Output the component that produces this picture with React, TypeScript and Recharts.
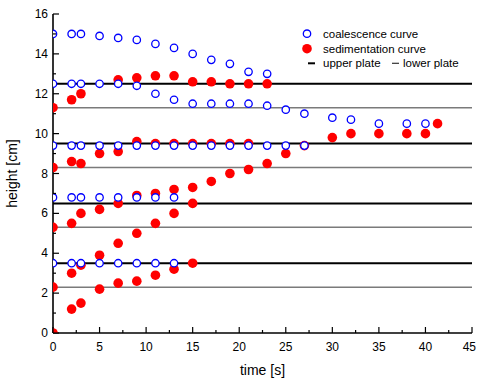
import { ScatterChart, Scatter, XAxis, YAxis, ReferenceLine, Legend } from "recharts";

const FONT = "'Liberation Sans', Arial, sans-serif";

const xTicks = [0, 2.5, 5, 7.5, 10, 12.5, 15, 17.5, 20, 22.5, 25, 27.5, 30, 32.5, 35, 37.5, 40, 42.5, 45];
const yTicks = [0, 1, 2, 3, 4, 5, 6, 7, 8, 9, 10, 11, 12, 13, 14, 15, 16];

const upperPlates = [12.5, 9.5, 6.5, 3.5];
const lowerPlates = [11.3, 8.3, 5.3, 2.3];

// coalescence curve (open circles)
const coal1Time = [0, 2, 3, 5, 7, 9, 11, 13, 15, 17, 19, 21, 23];
const coal1Height = [15.0, 15.0, 15.0, 14.9, 14.8, 14.7, 14.5, 14.3, 14.0, 13.7, 13.5, 13.1, 13.0];
const coal2Time = [0, 2, 3, 5, 7, 9, 11, 13, 15, 17, 19, 21, 23, 25, 27, 30, 32, 35, 38, 40];
const coal2Height = [12.5, 12.5, 12.5, 12.5, 12.5, 12.4, 12.0, 11.7, 11.5, 11.5, 11.5, 11.5, 11.4, 11.2, 11.0, 10.8, 10.7, 10.5, 10.5, 10.5];
const coal3Time = [0, 2, 3, 5, 7, 9, 11, 13, 15, 17, 19, 21, 23, 25, 27];
const coal3Height = [9.4, 9.4, 9.4, 9.4, 9.4, 9.4, 9.4, 9.4, 9.4, 9.4, 9.4, 9.4, 9.4, 9.4, 9.4];
const coal4Time = [0, 2, 3, 5, 7, 9, 11, 13];
const coal4Height = [6.8, 6.8, 6.8, 6.8, 6.8, 6.8, 6.8, 6.8];
const coal5Time = [0, 2, 3, 5, 7, 9, 11, 13];
const coal5Height = [3.5, 3.5, 3.5, 3.5, 3.5, 3.5, 3.5, 3.5];

// sedimentation curve (filled dots)
const sed1Time = [0, 2, 3, 7, 9, 11, 13, 15, 17, 19, 21, 23];
const sed1Height = [11.3, 11.7, 12.0, 12.7, 12.8, 12.9, 12.9, 12.6, 12.6, 12.5, 12.5, 12.5];
const sed2Time = [0, 2, 3, 5, 7, 9, 11, 13, 15, 17, 19, 21];
const sed2Height = [8.3, 8.6, 8.5, 9.0, 9.1, 9.6, 9.5, 9.5, 9.5, 9.5, 9.5, 9.5];
const sed3Time = [0, 2, 3, 5, 7, 9, 11, 13, 15, 17, 19, 21, 23, 25, 27, 30, 32, 35, 38, 40, 41.3];
const sed3Height = [5.3, 5.5, 6.0, 6.2, 6.5, 6.9, 7.0, 7.2, 7.3, 7.6, 8.0, 8.2, 8.5, 9.0, 9.4, 9.8, 10.0, 10.0, 10.0, 10.0, 10.5];
const sed4Time = [0, 2, 3, 5, 7, 9, 11, 13, 15];
const sed4Height = [2.3, 3.0, 3.4, 3.9, 4.5, 5.0, 5.5, 6.0, 6.5];
const sed5Time = [0, 2, 3, 5, 7, 9, 11, 13, 15];
const sed5Height = [0, 1.2, 1.5, 2.2, 2.5, 2.6, 2.9, 3.2, 3.5];

const zip = (t: number[], h: number[]) => t.map((v, i) => ({ t: v, h: h[i] }));

const coalescence = [
    ...zip(coal1Time, coal1Height),
    ...zip(coal2Time, coal2Height),
    ...zip(coal3Time, coal3Height),
    ...zip(coal4Time, coal4Height),
    ...zip(coal5Time, coal5Height),
];
const sedimentation = [
    ...zip(sed1Time, sed1Height),
    ...zip(sed2Time, sed2Height),
    ...zip(sed3Time, sed3Height),
    ...zip(sed4Time, sed4Height),
    ...zip(sed5Time, sed5Height),
];

// plot frame (chart margins + axis sizes)
const MARGIN = { top: 14, right: 5, bottom: 0, left: 0 };
const CHART_W = 477;
const CHART_H = 379;
const Y_AXIS_W = 53;
const X_AXIS_H = 46;

const BottomTick = ({ x, y, payload }: any) => {
    const major = payload.value % 5 === 0;
    // last label would run off the page edge, pull it in
    const last = payload.value === xTicks[xTicks.length - 1];
    return (
        <g>
            <line x1={x} y1={y} x2={x} y2={y - (major ? 6 : 3)} stroke="#000" strokeWidth={1.2} />
            {major && (
                <text
                    x={last ? CHART_W - 1 : x}
                    y={y + 18}
                    textAnchor={last ? "end" : "middle"}
                    fontSize={12}
                    fontFamily={FONT}
                    fill="#000">
                    {payload.value}
                </text>
            )}
        </g>
    );
};

const TopTick = ({ x, y, payload }: any) => {
    const major = payload.value % 5 === 0;
    return <line x1={x} y1={y} x2={x} y2={y + (major ? 6 : 3)} stroke="#000" strokeWidth={1.2} />;
};

const LeftTick = ({ x, y, payload }: any) => {
    const major = payload.value % 2 === 0;
    return (
        <g>
            <line x1={x} y1={y} x2={x + (major ? 6 : 3)} y2={y} stroke="#000" strokeWidth={1.2} />
            {major && (
                <text x={x - 5} y={y + 4} textAnchor="end" fontSize={12} fontFamily={FONT} fill="#000">
                    {payload.value}
                </text>
            )}
        </g>
    );
};

const RightTick = ({ x, y, payload }: any) => {
    const major = payload.value % 2 === 0;
    return <line x1={x} y1={y} x2={x - (major ? 6 : 3)} y2={y} stroke="#000" strokeWidth={1.2} />;
};

const OpenCircle = ({ cx, cy }: any) => (
    <circle cx={cx} cy={cy} r={3.7} fill="#fff" stroke="#0000ff" strokeWidth={1.3} clipPath="url(#plot-frame)" />
);
const FilledDot = ({ cx, cy }: any) => (
    <circle cx={cx} cy={cy} r={4.8} fill="#ff0000" clipPath="url(#plot-frame)" />
);

const renderLegend = () => (
    <svg width={187} height={55} style={{ display: "block" }}>
        <g fontFamily={FONT} fontSize={11.5} fill="#000">
            <circle cx={17} cy={13.7} r={3.7} fill="#fff" stroke="#0000ff" strokeWidth={1.3} />
            <text x={33} y={17.8}>coalescence curve</text>
            <circle cx={17} cy={28.7} r={4.8} fill="#ff0000" />
            <text x={33} y={32.8}>sedimentation curve</text>
            <line x1={18} y1={43.3} x2={25} y2={43.3} stroke="#000" strokeWidth={2} />
            <text x={33} y={47.4}>upper plate</text>
            <line x1={102} y1={43.3} x2={109} y2={43.3} stroke="#333" strokeWidth={1.2} />
            <text x={113} y={47.4}>lower plate</text>
        </g>
    </svg>
);

export default function App() {
    return (
        <div style={{ position: "absolute", left: 0, top: 0, background: "#fff" }}>
            <ScatterChart width={CHART_W} height={CHART_H} margin={MARGIN}>
                <defs>
                    <clipPath id="plot-frame">
                        <rect
                            x={MARGIN.left + Y_AXIS_W}
                            y={MARGIN.top}
                            width={CHART_W - MARGIN.left - MARGIN.right - Y_AXIS_W}
                            height={CHART_H - MARGIN.top - MARGIN.bottom - X_AXIS_H}
                        />
                    </clipPath>
                </defs>
                <XAxis
                    xAxisId="bottom"
                    dataKey="t"
                    type="number"
                    domain={[0, 45]}
                    ticks={xTicks}
                    interval={0}
                    allowDataOverflow
                    height={X_AXIS_H}
                    tickSize={0}
                    tickMargin={0}
                    tickLine={false}
                    tick={<BottomTick />}
                    axisLine={{ stroke: "#000", strokeWidth: 1.6 }}
                    label={{ value: "time [s]", position: "insideBottom", offset: 4, fontSize: 14, fontFamily: FONT, fill: "#000" }}
                />
                <XAxis
                    xAxisId="top"
                    orientation="top"
                    type="number"
                    domain={[0, 45]}
                    ticks={xTicks}
                    interval={0}
                    allowDataOverflow
                    height={0}
                    tickSize={0}
                    tickMargin={0}
                    tickLine={false}
                    tick={<TopTick />}
                    axisLine={{ stroke: "#000", strokeWidth: 1.6 }}
                />
                <YAxis
                    yAxisId="left"
                    dataKey="h"
                    type="number"
                    domain={[0, 16]}
                    ticks={yTicks}
                    interval={0}
                    allowDataOverflow
                    width={Y_AXIS_W}
                    tickSize={0}
                    tickMargin={0}
                    tickLine={false}
                    tick={<LeftTick />}
                    axisLine={{ stroke: "#000", strokeWidth: 1.6 }}
                    label={{ value: "height [cm]", angle: -90, position: "insideLeft", offset: 12, fontSize: 14, fontFamily: FONT, fill: "#000", style: { textAnchor: "middle" } }}
                />
                <YAxis
                    yAxisId="right"
                    orientation="right"
                    type="number"
                    domain={[0, 16]}
                    ticks={yTicks}
                    interval={0}
                    allowDataOverflow
                    width={0}
                    tickSize={0}
                    tickMargin={0}
                    tickLine={false}
                    tick={<RightTick />}
                    axisLine={{ stroke: "#000", strokeWidth: 1.6 }}
                />
                <Scatter
                    name="sedimentation curve"
                    data={sedimentation}
                    xAxisId="bottom"
                    yAxisId="left"
                    shape={<FilledDot />}
                    isAnimationActive={false}
                />
                <Scatter
                    name="coalescence curve"
                    data={coalescence}
                    xAxisId="bottom"
                    yAxisId="left"
                    shape={<OpenCircle />}
                    isAnimationActive={false}
                />
                {upperPlates.map((v) => (
                    <ReferenceLine key={"u" + v} y={v} xAxisId="bottom" yAxisId="left" stroke="#000" strokeWidth={2} />
                ))}
                {lowerPlates.map((v) => (
                    <ReferenceLine key={"l" + v} y={v} xAxisId="bottom" yAxisId="left" stroke="#7a7a7a" strokeWidth={1.5} />
                ))}
                <Legend
                    content={renderLegend}
                    layout="vertical"
                    align="center"
                    verticalAlign="middle"
                    wrapperStyle={{ top: 20, left: 290, width: 187, height: 55 }}
                />
            </ScatterChart>
        </div>
    );
}
